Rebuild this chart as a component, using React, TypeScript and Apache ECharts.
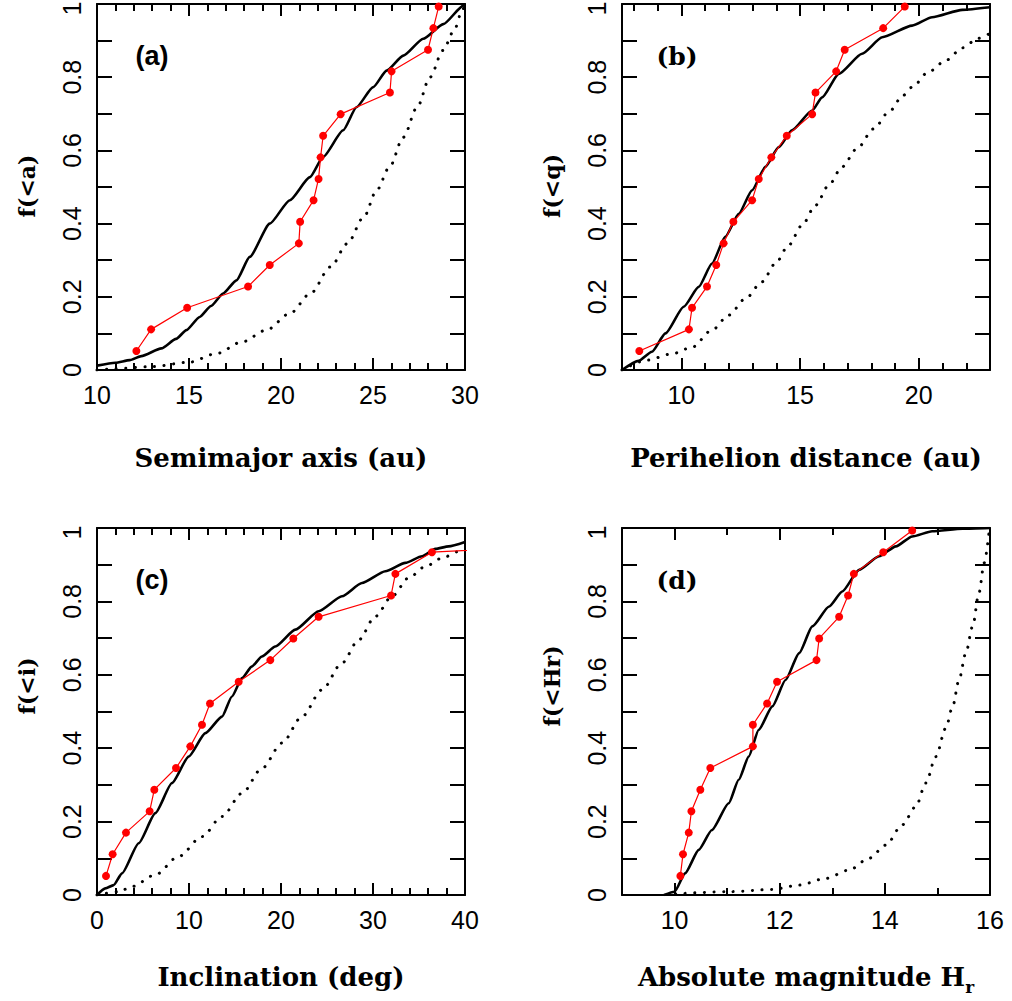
import React, { useEffect, useRef } from "react";
import * as echarts from "echarts";

// cumulative fraction of the 17 observed objects (red points), shared by all panels
const fracRed = [0.052, 0.111, 0.17, 0.228, 0.287, 0.346, 0.405, 0.464, 0.522, 0.581, 0.64, 0.699, 0.758, 0.816, 0.875, 0.934, 0.993];
const yTickLabels = ["0", "0.2", "0.4", "0.6", "0.8", "1"];

// (a) semimajor axis
const aRedX = [12.14, 12.94, 14.9, 18.21, 19.39, 20.97, 21.04, 21.77, 22.04, 22.15, 22.29, 23.24, 25.92, 26.01, 27.99, 28.28, 28.57];
const aModelX = [10, 11, 11.78, 12.41, 13.5, 14.3, 14.86, 15.58, 16.2, 16.85, 17.58, 18.3, 19.39, 20.48, 21.57, 22.29, 23.38, 24.1, 25.01, 25.74, 26.65, 27.73, 28.82, 29.9, 30];
const aModelY = [0.012, 0.02, 0.027, 0.038, 0.059, 0.085, 0.109, 0.145, 0.175, 0.209, 0.245, 0.309, 0.4, 0.464, 0.527, 0.582, 0.655, 0.718, 0.773, 0.818, 0.859, 0.905, 0.945, 0.995, 1.0];
const aDotX = [10, 10.8, 12.9, 15.0, 16.5, 17.9, 19.2, 20.5, 21.6, 22.7, 23.6, 24.5, 25.2, 25.9, 26.65, 27.4, 28.1, 28.8, 29.4, 29.85, 30];
const aDotY = [0, 0.003, 0.009, 0.021, 0.045, 0.077, 0.109, 0.155, 0.209, 0.282, 0.345, 0.418, 0.491, 0.555, 0.636, 0.718, 0.8, 0.873, 0.927, 0.982, 1.0];
const aTicks = [10, 15, 20, 25, 30];

// (b) perihelion distance
const bRedX = [8.23, 10.32, 10.45, 11.08, 11.47, 11.78, 12.19, 12.98, 13.26, 13.79, 14.44, 15.51, 15.65, 16.52, 16.88, 18.5, 19.41];
const bModelX = [7.5, 8.2, 8.76, 9.33, 10.1, 10.73, 11.29, 11.85, 12.42, 12.98, 13.54, 14.1, 14.66, 15.51, 15.93, 16.63, 17.61, 18.46, 19.72, 20.56, 21.83, 23];
const bModelY = [0, 0.025, 0.05, 0.1, 0.173, 0.227, 0.291, 0.364, 0.427, 0.491, 0.555, 0.609, 0.655, 0.709, 0.745, 0.809, 0.864, 0.909, 0.941, 0.964, 0.984, 0.991];
const bDotX = [7.5, 8.55, 9.6, 10.45, 11.29, 12.0, 12.7, 13.4, 13.96, 14.52, 15.08, 15.65, 16.21, 16.77, 17.4, 18.1, 18.74, 19.34, 19.72, 20.42, 21.17, 21.83, 22.5, 23];
const bDotY = [0, 0.027, 0.044, 0.062, 0.109, 0.15, 0.195, 0.241, 0.291, 0.341, 0.395, 0.45, 0.505, 0.555, 0.605, 0.659, 0.705, 0.75, 0.773, 0.815, 0.847, 0.88, 0.906, 0.92];
const bTicks = [10, 15, 20];

// (c) inclination
const cRedX = [0.98, 1.7, 3.15, 5.72, 6.23, 8.59, 10.14, 11.41, 12.28, 15.4, 18.84, 21.34, 24.09, 31.96, 32.43, 36.41, 80];
const cModelX = [0, 0.9, 1.81, 2.72, 4.53, 6.34, 8.15, 9.96, 11.78, 13.59, 14.67, 15.76, 16.85, 17.93, 19.38, 21.56, 24.09, 26.63, 28.8, 31.34, 33.51, 35.33, 36.78, 38.22, 40];
const cModelY = [0, 0.018, 0.027, 0.059, 0.141, 0.223, 0.305, 0.377, 0.441, 0.486, 0.541, 0.591, 0.623, 0.65, 0.677, 0.723, 0.773, 0.814, 0.85, 0.882, 0.905, 0.923, 0.943, 0.95, 0.962];
const cDotX = [0, 2.36, 3.8, 6.34, 8.88, 11.41, 13.59, 15.76, 17.93, 20.11, 22.28, 24.46, 26.63, 28.44, 30.25, 32.07, 33.88, 35.69, 37.5, 39.31, 40];
const cDotY = [0, 0.009, 0.023, 0.055, 0.105, 0.159, 0.214, 0.277, 0.345, 0.414, 0.486, 0.559, 0.632, 0.695, 0.759, 0.814, 0.864, 0.895, 0.918, 0.936, 0.94];
const cTicks = [0, 10, 20, 30, 40];

// (d) absolute magnitude
const dRedX = [10.11, 10.16, 10.27, 10.32, 10.49, 10.68, 11.49, 11.49, 11.76, 11.95, 12.7, 12.75, 13.13, 13.3, 13.41, 13.97, 14.52];
const dModelX = [9.8, 10, 10.2, 10.46, 10.71, 11.03, 11.22, 11.41, 11.6, 11.86, 12.11, 12.37, 12.62, 12.94, 13.19, 13.51, 13.89, 14.21, 14.52, 14.9, 15.48, 16];
const dModelY = [0, 0.009, 0.059, 0.123, 0.177, 0.25, 0.314, 0.377, 0.45, 0.514, 0.586, 0.659, 0.732, 0.786, 0.827, 0.886, 0.923, 0.95, 0.977, 0.991, 0.998, 1.0];
const dDotX = [10.02, 11.03, 11.86, 12.37, 12.87, 13.32, 13.7, 14.02, 14.33, 14.59, 14.78, 14.97, 15.16, 15.29, 15.41, 15.54, 15.67, 15.79, 15.89, 15.98];
const dDotY = [0.003, 0.009, 0.015, 0.027, 0.045, 0.068, 0.1, 0.136, 0.191, 0.241, 0.305, 0.377, 0.455, 0.514, 0.586, 0.659, 0.732, 0.823, 0.905, 0.986];
const dTicks = [10, 12, 14, 16];

const zip = (xs: number[], ys: number[]) => xs.map((x, i) => [x, ys[i]]);

const panels = [
  { left: 97, top: 4, height: 366, xMin: 10, xMax: 30, ticks: aTicks, minorStep: 1, redX: aRedX, mX: aModelX, mY: aModelY, uX: aDotX, uY: aDotY, label: "(a)", labelSans: true, xTitle: "Semimajor axis (au)", yTitle: "f(<a)", titleY: 458, yTitleY: 186 },
  { left: 622, top: 4, height: 366, xMin: 7.5, xMax: 23, ticks: bTicks, minorStep: 1, redX: bRedX, mX: bModelX, mY: bModelY, uX: bDotX, uY: bDotY, label: "(b)", labelSans: false, xTitle: "Perihelion distance (au)", yTitle: "f(<q)", titleY: 458, yTitleY: 186 },
  { left: 97, top: 528, height: 367, xMin: 0, xMax: 40, ticks: cTicks, minorStep: 2, redX: cRedX, mX: cModelX, mY: cModelY, uX: cDotX, uY: cDotY, label: "(c)", labelSans: true, xTitle: "Inclination (deg)", yTitle: "f(<i)", titleY: 977, yTitleY: 686 },
  { left: 622, top: 528, height: 367, xMin: 9, xMax: 16, ticks: dTicks, minorStep: 1, redX: dRedX, mX: dModelX, mY: dModelY, uX: dDotX, uY: dDotY, label: "(d)", labelSans: false, xTitle: "Absolute magnitude H{sub|r}", yTitle: "f(<Hr)", titleY: 977, yTitleY: 686 },
];

function minorTicks(min: number, max: number, step: number, majors: number[]) {
  const out: number[] = [];
  const start = Math.ceil(min / step - 1e-9) * step;
  for (let v = start; v <= max + 1e-9; v += step) {
    const r = Math.round(v * 1000) / 1000;
    if (!majors.some((m) => Math.abs(m - r) < 1e-6)) out.push(r);
  }
  return out;
}

const TITLE_FONT = "DejaVu Serif";
const TICK_FONT = "Liberation Sans";

function buildOption() {
  const grid: any[] = [];
  const xAxis: any[] = [];
  const yAxis: any[] = [];
  const series: any[] = [];
  const graphic: any[] = [];
  const black = { color: "#000", width: 2 };
  const tickText = { fontSize: 25, fontFamily: TICK_FONT, color: "#000" };

  panels.forEach((p, i) => {
    grid.push({ left: p.left, top: p.top, width: 368, height: p.height, containLabel: false, outerBoundsMode: "none" });
    const minors = minorTicks(p.xMin, p.xMax, p.minorStep, p.ticks);
    const base = { type: "value", gridIndex: i, min: p.xMin, max: p.xMax, splitLine: { show: false }, axisPointer: { show: false } };
    xAxis.push({
      ...base, position: "bottom",
      axisLine: { show: true, onZero: false, lineStyle: black },
      axisTick: { show: true, inside: true, length: 12, customValues: p.ticks, lineStyle: black },
      axisLabel: { show: true, customValues: p.ticks, margin: 12, ...tickText },
    });
    xAxis.push({
      ...base, position: "bottom",
      axisLine: { show: false, onZero: false },
      axisTick: { show: true, inside: true, length: 7, customValues: minors, lineStyle: black },
      axisLabel: { show: false },
    });
    xAxis.push({
      ...base, position: "top",
      axisLine: { show: true, onZero: false, lineStyle: black },
      axisTick: { show: true, inside: true, length: 12, customValues: p.ticks, lineStyle: black },
      axisLabel: { show: false },
    });
    xAxis.push({
      ...base, position: "top",
      axisLine: { show: false, onZero: false },
      axisTick: { show: true, inside: true, length: 7, customValues: minors, lineStyle: black },
      axisLabel: { show: false },
    });
    const ybase = { type: "value", gridIndex: i, min: 0, max: 1, interval: 0.1, splitLine: { show: false }, axisPointer: { show: false } };
    yAxis.push({
      ...ybase, position: "left",
      axisLine: { show: true, onZero: false, lineStyle: black },
      axisTick: { show: true, inside: true, length: 15, lineStyle: black },
      axisLabel: {
        show: true, rotate: 90, margin: 13, ...tickText,
        showMinLabel: true, showMaxLabel: true,
        formatter: (v: number) => {
          const k = Math.round(v * 10);
          if (k % 2 !== 0) return "";
          if (k === 10) return "{top|1}";
          return yTickLabels[k / 2];
        },
        rich: { top: { ...tickText, padding: [0, 9, 0, 0] } },
      },
    });
    yAxis.push({
      ...ybase, position: "right",
      axisLine: { show: true, onZero: false, lineStyle: black },
      axisTick: { show: true, inside: true, length: 15, lineStyle: black },
      axisLabel: { show: false },
    });
    const xi = 4 * i;
    const yi = 2 * i;
    series.push({
      type: "line", xAxisIndex: xi, yAxisIndex: yi, data: zip(p.uX, p.uY), symbol: "none", smooth: 0.3, smoothMonotone: "x",
      lineStyle: { color: "#000", width: 3, type: [0.1, 9.5], cap: "round" }, silent: true, z: 3,
    });
    series.push({
      type: "line", xAxisIndex: xi, yAxisIndex: yi, data: zip(p.mX, p.mY), symbol: "none", smooth: 0.2, smoothMonotone: "x",
      lineStyle: { color: "#000", width: 2.6 }, silent: true, z: 3,
    });
    series.push({
      type: "line", xAxisIndex: xi, yAxisIndex: yi, data: zip(p.redX, fracRed), symbol: "circle", symbolSize: 8,
      itemStyle: { color: "#ff0000" }, lineStyle: { color: "#ff0000", width: 1.2 }, silent: true, z: 4,
    });

    graphic.push({
      type: "text", x: p.left + 55, y: p.top + 52,
      style: {
        text: p.label, fill: "#000", textAlign: "center", textVerticalAlign: "middle",
        fontSize: p.labelSans ? 27 : 25, fontFamily: p.labelSans ? TICK_FONT : TITLE_FONT, fontWeight: "bold",
      },
    });
    graphic.push({
      type: "text", x: p.left + 184, y: p.titleY,
      style: {
        text: p.xTitle, fill: "#000", textAlign: "center", textVerticalAlign: "middle",
        fontSize: 26, fontFamily: TITLE_FONT, fontWeight: "bold",
        rich: { sub: { fontSize: 17, fontFamily: TITLE_FONT, fontWeight: "bold", fill: "#000", padding: [19, 0, 0, 0] } },
      },
    });
    graphic.push({
      type: "text", x: p.left - 70, y: p.yTitleY, rotation: Math.PI / 2,
      style: {
        text: p.yTitle, fill: "#000", textAlign: "center", textVerticalAlign: "middle",
        fontSize: 22, fontFamily: TITLE_FONT, fontWeight: "bold",
      },
    });
  });

  return { animation: false, backgroundColor: "#fff", grid, xAxis, yAxis, series, graphic };
}

export default function App() {
  const ref = useRef<HTMLDivElement>(null);
  useEffect(() => {
    if (!ref.current) return;
    const chart = echarts.init(ref.current, undefined, { renderer: "svg" });
    chart.setOption(buildOption() as any);
    return () => chart.dispose();
  }, []);
  return <div ref={ref} style={{ position: "fixed", left: 0, top: 0, width: 1012, height: 1001, background: "#fff" }} />;
}
